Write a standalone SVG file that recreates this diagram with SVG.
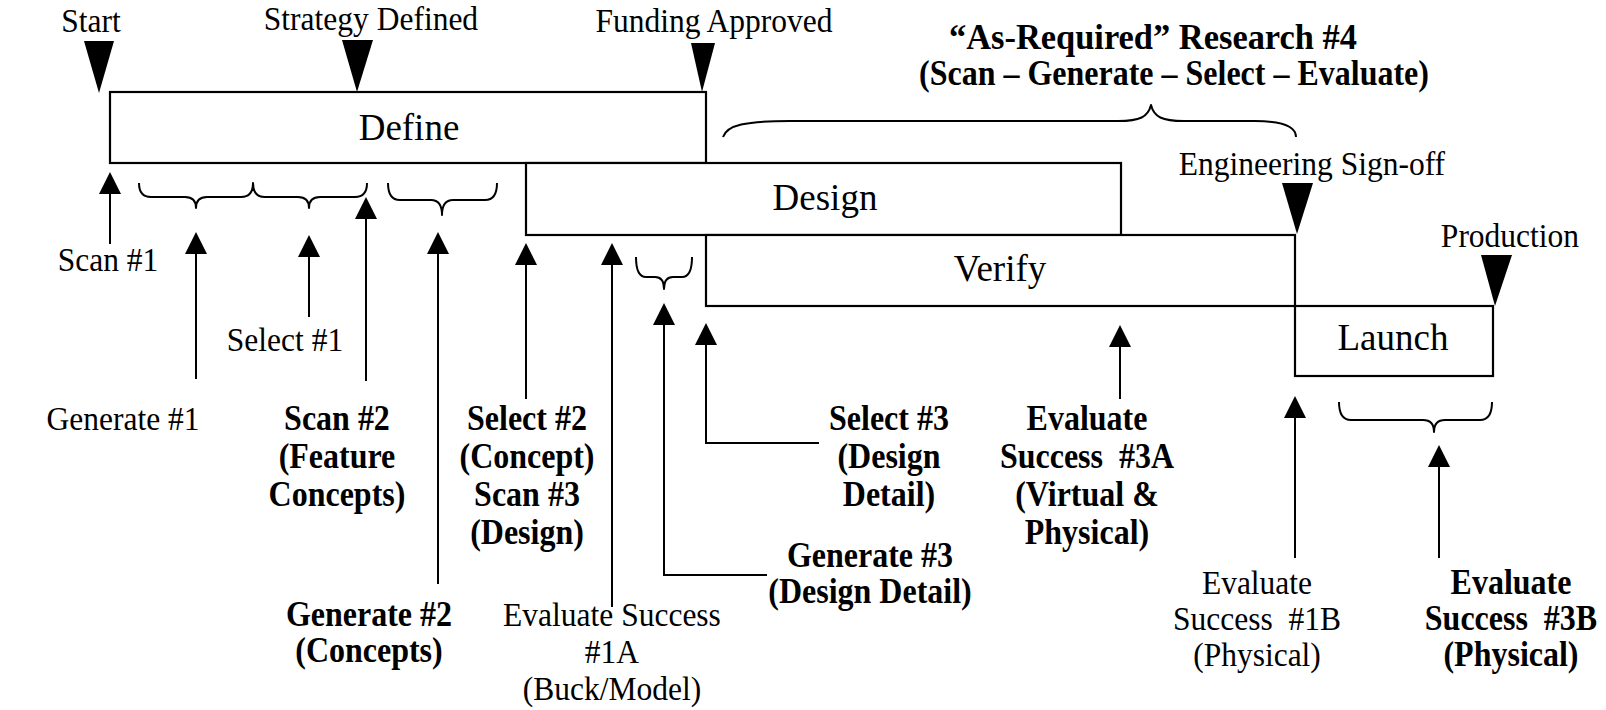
<svg xmlns="http://www.w3.org/2000/svg" width="1606" height="710" viewBox="0 0 1606 710">
  <style>
    text { font-family: "Liberation Serif", "Times New Roman", serif; fill: #000; text-anchor: middle; }
    .n, .b { transform-box: fill-box; transform-origin: center; transform: scale(1, 1.1); }
    .n { font-size: 31.5px; }
    .b { font-size: 32px; font-weight: bold; }
    .big { font-size: 37px; }
    .box { fill: #fff; stroke: #000; stroke-width: 2.2; }
    .arrow { fill: none; stroke: #000; stroke-width: 2; marker-end: url(#head); }
    .brace { fill: none; stroke: #000; stroke-width: 2; stroke-linejoin: round; }
    .gate { fill: #000; }
  </style>
  <defs>
    <marker id="head" markerUnits="userSpaceOnUse" markerWidth="22" markerHeight="22" refX="3" refY="11" orient="auto" overflow="visible">
      <path d="M0,0 L22,11 L0,22 Z" fill="#000"/>
    </marker>
  </defs>
  <rect width="1606" height="710" fill="#fff"/>

  <!-- phase boxes -->
  <g id="define">
    <rect class="box" x="110" y="92" width="596" height="71"/>
    <text class="big" x="409" y="140">Define</text>
  </g>
  <g id="design">
    <rect class="box" x="526" y="163" width="595" height="72"/>
    <text class="big" x="825" y="210">Design</text>
  </g>
  <g id="verify">
    <rect class="box" x="706" y="235" width="589" height="71"/>
    <text class="big" x="1000" y="281">Verify</text>
  </g>
  <g id="launch">
    <rect class="box" x="1295" y="306" width="198" height="70"/>
    <text class="big" x="1393" y="350">Launch</text>
  </g>

  <!-- milestones -->
  <g id="start">
    <text class="n" x="91" y="31">Start</text>
    <polygon class="gate" points="84,41 114,41 99,93"/>
  </g>
  <g id="strategy-defined">
    <text class="n" x="371" y="29">Strategy Defined</text>
    <polygon class="gate" points="342,40 373,40 357,92"/>
  </g>
  <g id="funding-approved">
    <text class="n" x="714" y="31">Funding Approved</text>
    <polygon class="gate" points="691,43 715,43 702,92"/>
  </g>
  <g id="engineering-signoff">
    <text class="n" x="1312" y="174">Engineering Sign-off</text>
    <polygon class="gate" points="1282,183 1313,183 1297,234"/>
  </g>
  <g id="production">
    <text class="n" x="1510" y="246">Production</text>
    <polygon class="gate" points="1481,255 1512,255 1495,306"/>
  </g>

  <!-- as-required research -->
  <g id="research-4">
    <text class="b" x="1153" y="48" textLength="408" lengthAdjust="spacingAndGlyphs">“As-Required” Research #4</text>
    <text class="b" x="1174" y="84">(Scan – Generate – Select – Evaluate)</text>
  </g>

  <!-- braces -->
  <g id="braces">
    <path class="brace" d="M723,137 C727,125 745,121 790,121 L1118,121 C1140,121 1148,117 1151,105 C1154,117 1162,121 1184,121 L1255,121 C1284,121 1296,127 1296,137"/>
    <path class="brace" d="M139,183 Q139,197 151,197 L185,197 Q196,197 196,208 Q196,197 207,197 L241,197 Q253,197 253,183 Q253,197 265,197 L298,197 Q309,197 309,208 Q309,197 320,197 L355,197 Q367,197 367,183"/>
    <path class="brace" d="M388,183 Q388,200 400,200 L431,200 Q442,200 442,215 Q442,200 453,200 L485,200 Q497,200 497,183"/>
    <path class="brace" d="M636,257 Q636,277 646,277 L655,277 Q664,277 664,289 Q664,277 673,277 L682,277 Q692,277 692,257"/>
    <path class="brace" d="M1339,402 Q1339,420 1351,420 L1423,420 Q1434,420 1434,432 Q1434,420 1445,420 L1480,420 Q1492,420 1492,402"/>
  </g>

  <!-- activity arrows -->
  <g id="connectors">
    <path class="arrow" d="M110,244 V191"/>
    <path class="arrow" d="M196,379 V251"/>
    <path class="arrow" d="M309,317 V254"/>
    <path class="arrow" d="M366,381 V216"/>
    <path class="arrow" d="M438,584 V251"/>
    <path class="arrow" d="M526,399 V262"/>
    <path class="arrow" d="M612,607 V262"/>
    <path class="arrow" d="M767,575 H664 V322"/>
    <path class="arrow" d="M819,443 H706 V342"/>
    <path class="arrow" d="M1120,399 V344"/>
    <path class="arrow" d="M1295,558 V415"/>
    <path class="arrow" d="M1439,558 V464"/>
  </g>

  <!-- activity labels -->
  <g id="scan-1"><text class="n" x="108" y="270">Scan #1</text></g>
  <g id="generate-1"><text class="n" x="123" y="429">Generate #1</text></g>
  <g id="select-1"><text class="n" x="285" y="350">Select #1</text></g>
  <g id="scan-2">
    <text class="b" x="337" y="429">Scan #2</text>
    <text class="b" x="337" y="467">(Feature</text>
    <text class="b" x="337" y="505">Concepts)</text>
  </g>
  <g id="generate-2">
    <text class="b" x="369" y="625">Generate #2</text>
    <text class="b" x="369" y="661">(Concepts)</text>
  </g>
  <g id="select-2">
    <text class="b" x="527" y="429">Select #2</text>
    <text class="b" x="527" y="467">(Concept)</text>
    <text class="b" x="527" y="505">Scan #3</text>
    <text class="b" x="527" y="543">(Design)</text>
  </g>
  <g id="evaluate-1a">
    <text class="n" x="612" y="625">Evaluate Success</text>
    <text class="n" x="612" y="662">#1A</text>
    <text class="n" x="612" y="699">(Buck/Model)</text>
  </g>
  <g id="generate-3">
    <text class="b" x="870" y="566">Generate #3</text>
    <text class="b" x="870" y="602">(Design Detail)</text>
  </g>
  <g id="select-3">
    <text class="b" x="889" y="429">Select #3</text>
    <text class="b" x="889" y="467">(Design</text>
    <text class="b" x="889" y="505">Detail)</text>
  </g>
  <g id="evaluate-3a">
    <text class="b" x="1087" y="429">Evaluate</text>
    <text class="b" x="1087" y="467" xml:space="preserve">Success  #3A</text>
    <text class="b" x="1087" y="505">(Virtual &amp;</text>
    <text class="b" x="1087" y="543">Physical)</text>
  </g>
  <g id="evaluate-1b">
    <text class="n" x="1257" y="593">Evaluate</text>
    <text class="n" x="1257" y="629" xml:space="preserve">Success  #1B</text>
    <text class="n" x="1257" y="665">(Physical)</text>
  </g>
  <g id="evaluate-3b">
    <text class="b" x="1511" y="593">Evaluate</text>
    <text class="b" x="1511" y="629" xml:space="preserve">Success  #3B</text>
    <text class="b" x="1511" y="665">(Physical)</text>
  </g>
</svg>
